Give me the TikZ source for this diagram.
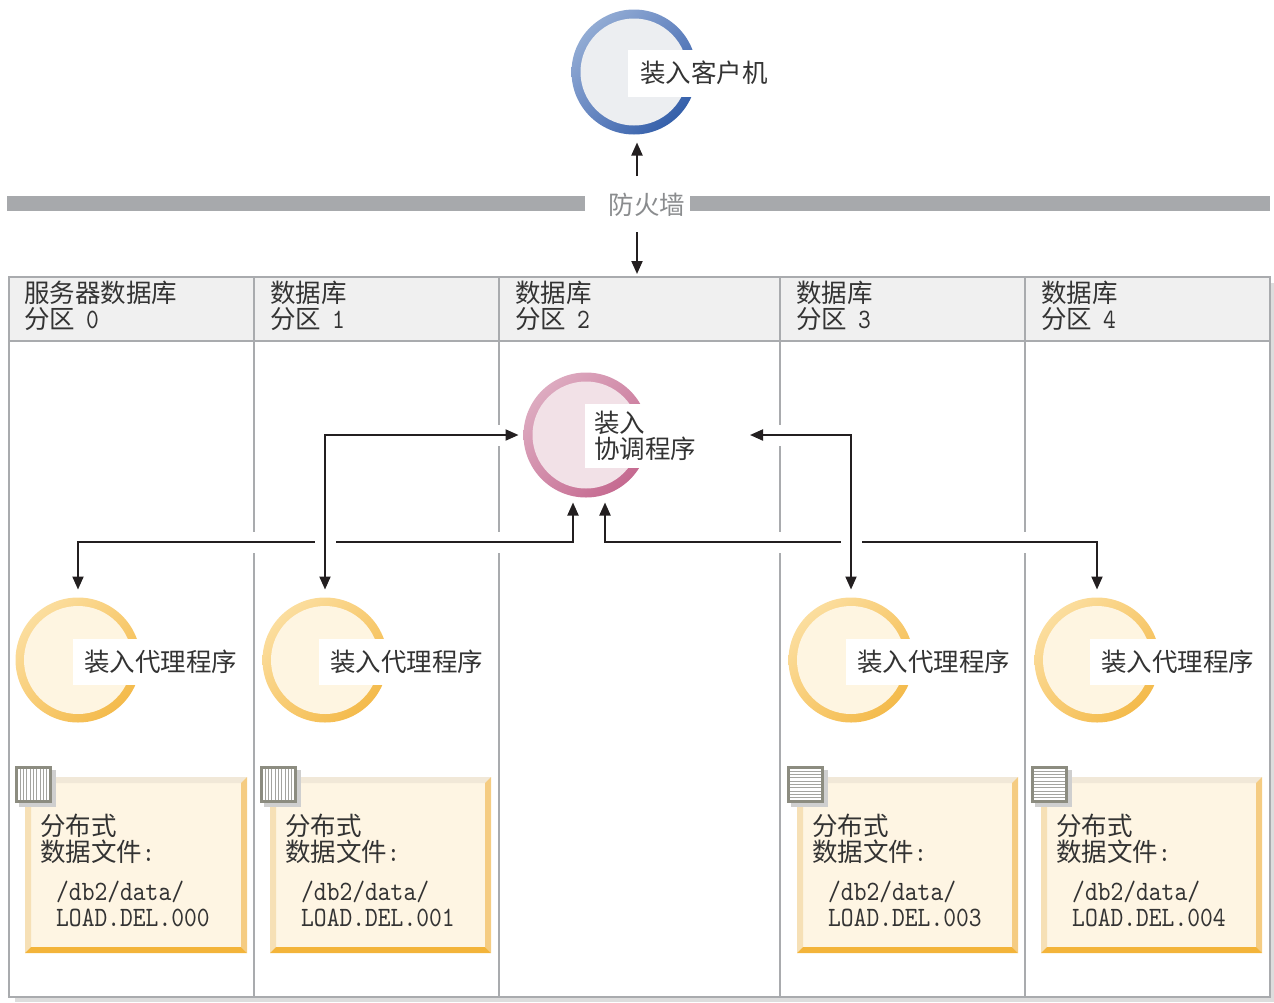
\documentclass[tikz,border=0pt]{standalone}
\usepackage{fontspec}
\setmainfont{Noto Sans CJK SC}
\newfontfamily\mono[FakeStretch=0.87]{lmmono10-regular.otf}
\newcommand\lat{\mono\fontsize{28}{26}\selectfont}
\usetikzlibrary{arrows.meta,shadings,calc}
\definecolor{txtc}{HTML}{333333}
\definecolor{gridc}{HTML}{A9ABAE}
\definecolor{hdrc}{HTML}{F0F0F0}
\definecolor{shadowc}{HTML}{DDDDDD}
\definecolor{fwbar}{HTML}{A7A9AC}
\definecolor{fwtext}{HTML}{8A8C8E}
\definecolor{arrc}{HTML}{231F20}
\definecolor{cla}{HTML}{A3BADB}
\definecolor{clb}{HTML}{1F4FA0}
\definecolor{clm}{HTML}{6887C2}
\definecolor{clin}{HTML}{ECEEF1}
\definecolor{coa}{HTML}{E2B8CA}
\definecolor{cob}{HTML}{C05C86}
\definecolor{com}{HTML}{D18AA8}
\definecolor{coin}{HTML}{F2E1E7}
\definecolor{aga}{HTML}{FDE5B0}
\definecolor{agb}{HTML}{F2B33A}
\definecolor{agm}{HTML}{F8CC74}
\definecolor{agin}{HTML}{FEF5E1}
\definecolor{fbin}{HTML}{FEF5E3}
\definecolor{fbtop}{HTML}{F1E8D8}
\definecolor{fbleft}{HTML}{F6E0B6}
\definecolor{fbright}{HTML}{F5CC82}
\definecolor{fbbot}{HTML}{F3B43A}
\definecolor{icb}{HTML}{8C8C80}
\definecolor{ics}{HTML}{A4A4A0}
\definecolor{icsh}{HTML}{CFCFCF}
\tikzset{
  txt/.style={font=\fontsize{25.5}{26}\selectfont, text=txtc, inner sep=0pt, align=left, anchor=west},
  lbl/.style={font=\fontsize{25.5}{26}\selectfont, text=txtc, fill=white, anchor=west, inner ysep=0pt, align=left},
  grid/.style={draw=gridc, line width=2.5pt},
  ring/.style={circle, minimum size=125pt, inner sep=0pt},
  clientring/.style={ring, outer sep=8pt, upper left=cla, upper right=clm, lower left=clm, lower right=clb},
  coordring/.style={ring, outer sep=5pt, upper left=coa, upper right=com, lower left=com, lower right=cob},
  agentring/.style={ring, outer sep=8pt, upper left=aga, upper right=agm, lower left=agm, lower right=agb},
  tip/.tip={Triangle[length=13pt,width=11pt]},
  arr/.style={draw=arrc, line width=2pt, -tip},
  dbl/.style={draw=arrc, line width=2pt, tip-tip},
  halo/.style={draw=white, line width=21pt},
}
\newcommand\myagent[3]{%
  \node[agentring] (#1) at (#2,660) {};
  \fill[agin] (#1.center) circle (54pt);
  \node[lbl, minimum height=46pt, inner xsep=11pt] (#1l) at (#3,662) {装入代理程序};
}
\newcommand\myfilebox[4]{% x1, x2, name, suffix
  \fill[fbin] (#1,777) rectangle (#2,953);
  \fill[fbtop] (#1,777) -- (#2,777) -- (#2-6,783) -- (#1+6,783) -- cycle;
  \fill[fbleft] (#1,777) -- (#1+6,783) -- (#1+6,947) -- (#1,953) -- cycle;
  \fill[fbright] (#2,777) -- (#2,953) -- (#2-6,947) -- (#2-6,783) -- cycle;
  \fill[fbbot] (#1,953) -- (#2,953) -- (#2-6,947) -- (#1+6,947) -- cycle;
  \node[txt] (#3a) at (#1+15,839) {分布式\\数据文件{\lat :}};
  \node[txt, font=\lat] (#3b) at (#1+31,904) {/db2/data/\\LOAD.DEL.#4};
}
\newcommand\myiconv[1]{%
  \fill[icsh] (#1+4,770) rectangle (#1+41,807);
  \fill[white] (#1,766) rectangle (#1+37,803);
  \foreach \k in {1,...,9} \draw[ics, line width=1pt] (#1+2+3.3*\k,768) -- (#1+2+3.3*\k,801);
  \draw[icb, line width=3pt] (#1+1.5,767.5) rectangle (#1+35.5,801.5);
}
\newcommand\myiconh[1]{%
  \fill[icsh] (#1+4,770) rectangle (#1+41,807);
  \fill[white] (#1,766) rectangle (#1+37,803);
  \foreach \k in {1,...,9} \draw[ics, line width=1pt] (#1+2,768+3.3*\k) -- (#1+35,768+3.3*\k);
  \draw[icb, line width=3pt] (#1+1.5,767.5) rectangle (#1+35.5,801.5);
}
\begin{document}
\begin{tikzpicture}[x=1pt,y=-1pt]
\useasboundingbox (0,0) rectangle (1274,1002);
% table
\fill[shadowc] (1270,283) rectangle (1274,1002);
\fill[shadowc] (15,997) rectangle (1274,1002);
\fill[hdrc] (9,277) rectangle (1270,341);
\draw[grid] (9,277) rectangle (1270,997);
\draw[grid] (9,341) -- (1270,341);
\foreach \x in {254,499,780,1025} \draw[grid] (\x,277) -- (\x,997);
\node[txt] (h0) at (24,306) {服务器数据库\\分区\hspace{11pt}{\lat 0}};
\node[txt] (h1) at (270,306) {数据库\\分区\hspace{11pt}{\lat 1}};
\node[txt] (h2) at (515,306) {数据库\\分区\hspace{11pt}{\lat 2}};
\node[txt] (h3) at (796,306) {数据库\\分区\hspace{11pt}{\lat 3}};
\node[txt] (h4) at (1041,306) {数据库\\分区\hspace{11pt}{\lat 4}};
% firewall
\fill[fwbar] (7,196) rectangle (585,211);
\fill[fwbar] (690,196) rectangle (1270,211);
\node[txt, anchor=center, text=fwtext] (fw) at (647,205) {防火墙};
% client
\node[clientring] (client) at (634,72) {};
\fill[clin] (client.center) circle (53.5pt);
\node[lbl, minimum height=47pt, inner xsep=12pt] (clientl) at (628,73) {装入客户机};
\coordinate (fwu) at (637,176);
\coordinate (fwd) at (637,232);
\coordinate (tbl) at (637,274);
\draw[arr] (fwu) -- (client.south -| fwu);
\draw[arr] (fwd) -- (tbl);
% coordinator
\node[coordring] (coord) at (586,435) {};
\fill[coin] (coord.center) circle (53.5pt);
\node[lbl, minimum height=64pt, inner xsep=9pt, text width=142pt] (coordl) at (585,436) {装入\\协调程序};
% agents
\myagent{a0}{78}{73}
\myagent{a1}{325}{319}
\myagent{a3}{851}{846}
\myagent{a4}{1097}{1090}
% file boxes
\myfilebox{25}{247}{f0}{000}
\myfilebox{270}{491}{f1}{001}
\myfilebox{797}{1018}{f3}{003}
\myfilebox{1041}{1262}{f4}{004}
\myiconv{15}
\myiconv{260}
\myiconh{787}
\myiconh{1031}
% connectors
\coordinate (ya) at (0,542);
\coordinate (ca) at ($(coord.south)+(-13,0)$);
\coordinate (cb) at ($(coord.south)+(19,0)$);
\coordinate (cr) at (750,435);
\draw[halo] (ca) -- (ca |- ya) -| (a0.north);
\draw[dbl] (ca) -- (ca |- ya) -| (a0.north);
\draw[halo] (cb) -- (cb |- ya) -| (a4.north);
\draw[dbl] (cb) -- (cb |- ya) -| (a4.north);
\draw[halo] (coord.west) -| (a1.north);
\draw[dbl] (coord.west) -| (a1.north);
\draw[halo] (cr) -| (a3.north);
\draw[dbl] (cr) -| (a3.north);
\end{tikzpicture}
\end{document}
